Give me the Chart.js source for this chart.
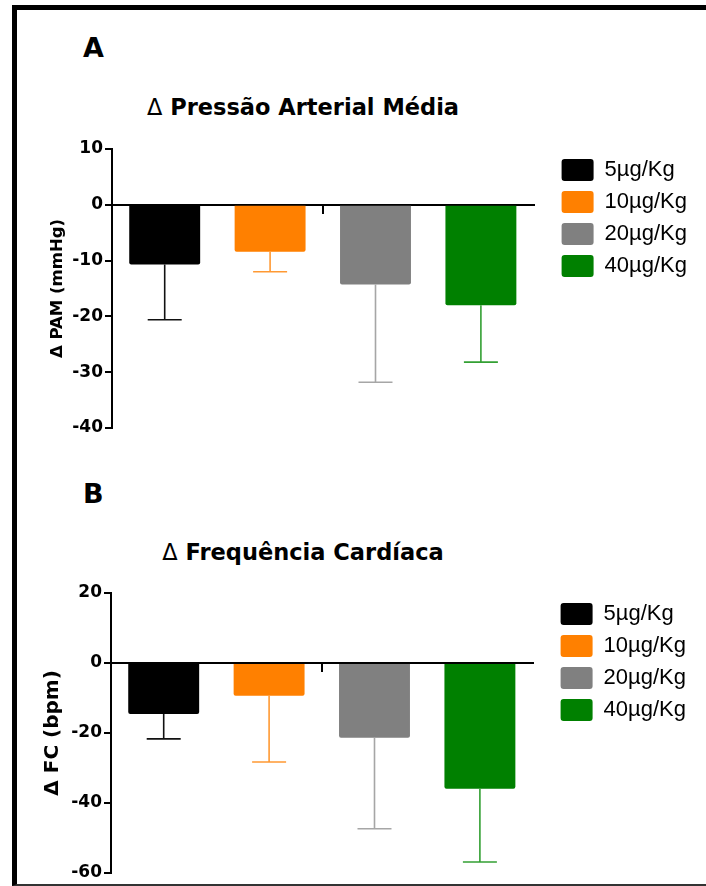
<!DOCTYPE html>
<html>
<head>
<meta charset="utf-8">
<script src="https://cdn.jsdelivr.net/npm/chart.js@4.4.0/dist/chart.umd.min.js"></script>
<style>
  html, body { margin: 0; padding: 0; background: #fff; width: 706px; height: 886px; overflow: hidden; }
  #frame { position: absolute; left: 12px; top: 5px; width: 720px; height: 881px; box-sizing: border-box;
           border-left: 5px solid #000; border-top: 5px solid #000; border-bottom: 2px solid #333; }
  .panel { position: absolute; left: 83px; font: bold 27px 'DejaVu Sans'; line-height: 27px; color: #000; }
  .title { position: absolute; left: 0; width: 606px; text-align: center; white-space: nowrap;
           font: bold 22.5px 'DejaVu Sans'; line-height: 22.5px; color: #000; }
  .title span { font-weight: normal; }
  canvas { position: absolute; left: 20px; }
</style>
</head>
<body>
<div id="frame"></div>

<div class="panel" style="top:34px">A</div>
<div class="title" style="top:96px"><span>Δ</span> Pressão Arterial Média</div>
<canvas id="chartPAM" width="686" height="320" style="top:130px"></canvas>

<div class="panel" style="top:480px">B</div>
<div class="title" style="top:541px"><span>Δ</span> Frequência Cardíaca</div>
<canvas id="chartFC" width="686" height="310" style="top:575px"></canvas>

<script>
// doses and colours shared by both panels
const doses = ['5µg/Kg', '10µg/Kg', '20µg/Kg', '40µg/Kg'];
const barColors = ['#000000', '#ff8000', '#808080', '#008000'];
const errColors = ['#111111', '#ff9933', '#a6a6a6', '#33a033'];

// mean arterial pressure change (mmHg), mean and SD
const pamMean = [-10.7, -8.4, -14.3, -18.0];
const pamSD = [9.9, 3.6, 17.5, 10.2];
const pamTicks = [10, 0, -10, -20, -30, -40];

// heart rate change (bpm), mean and SD
const fcMean = [-14.6, -9.4, -21.4, -36.0];
const fcSD = [7.1, 18.9, 26.0, 20.9];
const fcTicks = [20, 0, -20, -40, -60];

// draws the lower SD whisker under each bar and moves the legend off the plot
const errorBars = {
  id: 'errorBars',
  afterLayout(chart) {
    const lg = chart.legend;
    const shift = chart.chartArea.right + 18 - lg.left;
    lg.left += shift;
    lg.right += shift;
  },
  afterDatasetsDraw(chart, args, opts) {
    const ctx = chart.ctx;
    const y = chart.scales.y;
    chart.data.datasets.forEach((ds, i) => {
      const bar = chart.getDatasetMeta(i).data[0];
      const yEnd = y.getPixelForValue(ds.data[0] - opts.sd[i]);
      ctx.save();
      ctx.strokeStyle = errColors[i];
      ctx.lineWidth = 1.6;
      ctx.beginPath();
      ctx.moveTo(bar.x, bar.y);
      ctx.lineTo(bar.x, yEnd);
      ctx.moveTo(bar.x - 17, yEnd);
      ctx.lineTo(bar.x + 17, yEnd);
      ctx.stroke();
      ctx.restore();
    });
  }
};

function makeChart(id, means, sd, ticks, axisTitle, titleFont, titlePad, axisWidth, pad) {
  return new Chart(document.getElementById(id), {
    type: 'bar',
    data: {
      labels: [''],
      datasets: doses.map((d, i) => ({
        label: d,
        data: [means[i]],
        backgroundColor: barColors[i],
        borderWidth: 0,
        borderRadius: 2,
        categoryPercentage: 1,
        barPercentage: 0.673
      }))
    },
    options: {
      responsive: false,
      animation: false,
      layout: { padding: pad },
      scales: {
        x: {
          position: { y: 0 },
          ticks: { display: false },
          grid: { drawOnChartArea: false, offset: false, tickLength: 8, lineWidth: 2, color: '#000' },
          border: { color: '#000', width: 2 }
        },
        y: {
          min: Math.min(...ticks),
          max: Math.max(...ticks),
          ticks: {
            stepSize: ticks[0] - ticks[1],
            color: '#000',
            padding: 2,
            font: { family: 'DejaVu Sans', weight: 'bold', size: 17 }
          },
          grid: { drawOnChartArea: false, tickLength: 7, lineWidth: 2, color: '#000' },
          border: { color: '#000', width: 2 },
          title: {
            display: true,
            text: axisTitle,
            color: '#000',
            font: { family: 'DejaVu Sans', weight: 'bold', size: titleFont },
            padding: { top: titlePad, bottom: 0 }
          },
          afterFit(scale) { scale.width = axisWidth; }
        }
      },
      plugins: {
        legend: {
          position: 'right',
          align: 'start',
          labels: {
            boxWidth: 32,
            boxHeight: 22,
            padding: 10,
            color: '#000',
            useBorderRadius: true,
            borderRadius: 3,
            font: { family: 'Liberation Sans', size: 22 }
          }
        },
        tooltip: { enabled: false },
        errorBars: { sd: sd }
      }
    },
    plugins: [errorBars]
  });
}

makeChart('chartPAM', pamMean, pamSD, pamTicks, 'Δ PAM (mmHg)', 16.5, 28, 92,
  { top: 19, bottom: 22, left: 0, right: 27 });
makeChart('chartFC', fcMean, fcSD, fcTicks, 'Δ FC (bpm)', 20, 21, 91,
  { top: 18, bottom: 12, left: 0, right: 28 });
</script>
</body>
</html>
